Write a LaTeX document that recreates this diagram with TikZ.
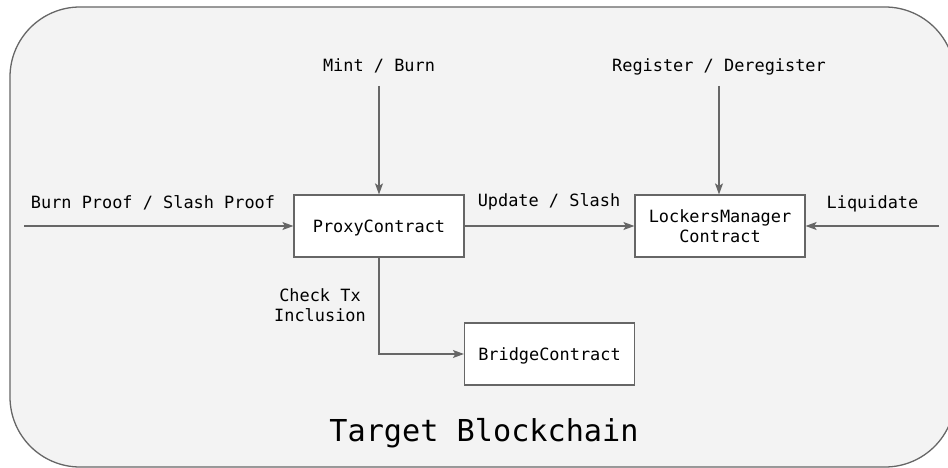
\documentclass[tikz,border=0pt]{standalone}
\usepackage{fontspec}
\setmonofont{DejaVu Sans Mono}
\usepackage{tikz}
\usetikzlibrary{arrows.meta, calc}

\definecolor{chainbg}{HTML}{F3F3F3}
\definecolor{linegray}{HTML}{666666}

\begin{document}
\begin{tikzpicture} [x=1pt, y=-1pt,
	font=\ttfamily\fontsize{16.9}{20}\selectfont,
	contract/.style={draw=linegray, line width=1.2pt, fill=white,
		minimum width=170pt, minimum height=62pt, align=center, inner sep=0pt},
	oneline/.style={text depth=0pt},
	lbl/.style={inner sep=0pt, align=center, anchor=base},
	arr/.style={draw=linegray, line width=1.2pt,
		-{Stealth[length=11pt, width=8pt, inset=2.5pt]}}]
	\useasboundingbox (0,0) rectangle (948,468);

	% outer chain frame
	\draw[draw=linegray, fill=chainbg, line width=1.3pt, rounded corners=70pt]
		(10,7) rectangle (955,467);
	\node[lbl, font=\ttfamily\fontsize{30.2}{34}\selectfont] (chain) at (484,441) {Target Blockchain};

	% contracts
	\node[contract, oneline] (proxy) at (379,226) {ProxyContract};
	\node[contract] (lockers) at (720,226) {LockersManager\\Contract};
	\node[contract, oneline] (bridge) at (549.5,354) {BridgeContract};

	% labels
	\node[lbl] (mint) at (379,71.5) {Mint / Burn};
	\node[lbl] (register) at (719,71.5) {Register / Deregister};
	\node[lbl] (proof) at (153,208.5) {Burn Proof / Slash Proof};
	\node[lbl] (update) at (549,206) {Update / Slash};
	\node[lbl] (liquidate) at (872.5,208.5) {Liquidate};
	\node[lbl, anchor=north] (check) at (320,288) {Check Tx\\Inclusion};

	% free ends
	\coordinate (mintin) at (379,86);
	\coordinate (registerin) at (719,86);
	\coordinate (proofin) at (24,226);
	\coordinate (liquidatein) at (939,226);

	% connectors
	\draw[arr] (mintin) -- (proxy.north);
	\draw[arr] (registerin) -- (registerin |- lockers.north);
	\draw[arr] (proofin) -- (proxy.west);
	\draw[arr] (liquidatein) -- (lockers.east);
	\draw[arr] (proxy.east) -- (lockers.west);
	\draw[arr] (proxy.south) |- (bridge.west);

\end{tikzpicture}
\end{document}
